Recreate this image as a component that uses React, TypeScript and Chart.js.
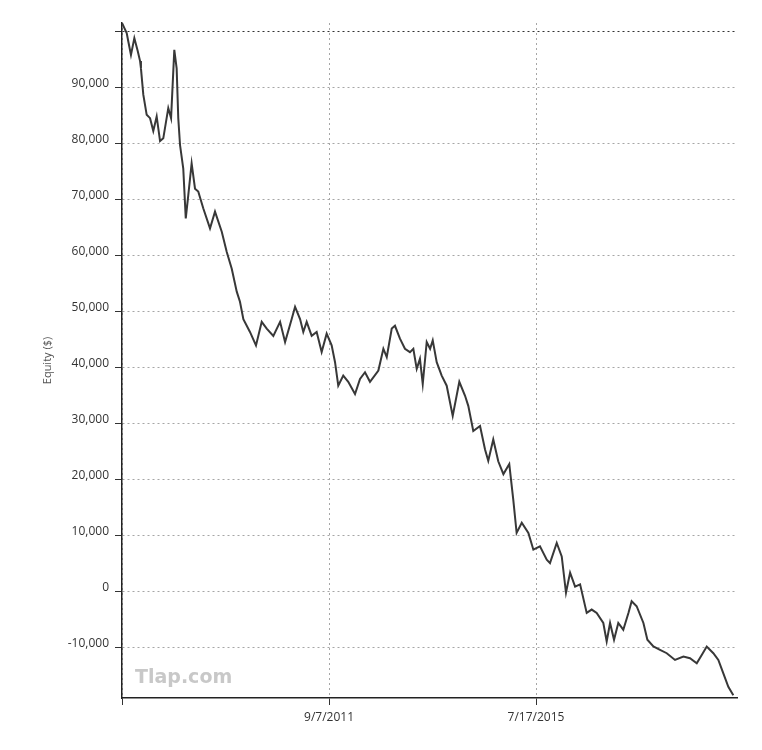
import React, { useEffect, useRef } from "react";
import { Chart, registerables } from "chart.js";
Chart.register(...registerables);

const START_DATE = "2007-10-29";
const AXIS_END_DAY = 4186;
const dayOffsets = [0,32,43,61,84,107,123,129,145,168,191,213,236,259,281,315,334,356,372,383,395,417,434,451,474,497,519,553,599,633,679,713,747,781,803,826,871,912,951,985,1030,1076,1110,1155,1178,1212,1234,1257,1291,1325,1359,1393,1427,1450,1472,1506,1540,1586,1620,1654,1688,1745,1779,1802,1836,1858,1892,1926,1960,1983,2006,2028,2047,2074,2097,2115,2142,2176,2210,2251,2296,2335,2357,2391,2437,2471,2493,2527,2561,2596,2636,2663,2686,2721,2766,2800,2845,2891,2913,2959,2993,3022,3050,3084,3118,3163,3197,3231,3276,3299,3322,3349,3378,3412,3447,3469,3503,3549,3576,3617,3662,3708,3764,3821,3866,3912,3946,3980,4025,4059,4093,4127,4161];
const equity = [101600,99800,98300,95900,98900,96600,94800,93500,88800,85200,84600,82300,84900,80500,81000,86400,84600,96800,93500,84600,79800,75600,66700,70800,76500,72000,71500,68500,64900,67900,64300,60700,57700,53600,51800,48700,46400,44000,48200,47000,45700,48200,44600,48700,50900,48700,46400,48200,45700,46400,42800,46100,44000,41000,36800,38600,37500,35300,38000,39200,37500,39500,43400,41900,47000,47500,45200,43400,42800,43400,39800,41600,37100,44600,43400,44900,41000,38600,36800,31400,37500,35000,33200,28700,29600,25400,23400,27200,23300,21000,22800,16500,10500,12300,10500,7500,8100,5700,5100,8700,6300,-200,3400,900,1300,-3800,-3200,-3800,-5600,-8900,-5600,-8600,-5600,-6800,-3800,-1700,-2600,-5600,-8600,-9800,-10400,-11000,-12200,-11600,-11900,-12800,-11300,-9800,-11000,-12200,-14600,-17000,-18500];
const xTickOffsets = [0, 1409, 2818];
const yTickValues = [-10000, 0, 10000, 20000, 30000, 40000, 50000, 60000, 70000, 80000, 90000, 100000];
const Y_MIN = -19000;
const Y_MAX = 101600;
const yTitle = "Equity ($)";
const watermark = "Tlap.com";

function formatDate(offset: number): string {
  const d = new Date(Date.parse(START_DATE + "T00:00:00Z") + offset * 86400000);
  return `${d.getUTCMonth() + 1}/${d.getUTCDate()}/${d.getUTCFullYear()}`;
}

const FONT = "'Open Sans', 'Noto Sans', sans-serif";

export default function App() {
  const ref = useRef<HTMLCanvasElement | null>(null);
  useEffect(() => {
    document.body.style.margin = "0";
    const canvas = ref.current;
    if (!canvas) return;
    const chart = new Chart(canvas, {
      type: "line",
      data: {
        datasets: [
          {
            data: dayOffsets.map((d, i) => ({ x: d, y: equity[i] })),
            borderColor: "#383838",
            borderWidth: 2,
            pointRadius: 0,
            tension: 0,
            fill: false,
          },
        ],
      },
      options: {
        animation: false,
        responsive: false,
        devicePixelRatio: 1,
        layout: { padding: { top: 23, right: 25, left: 0, bottom: 0 } },
        plugins: { legend: { display: false }, tooltip: { enabled: false } },
        scales: {
          x: {
            type: "linear",
            min: 0,
            max: AXIS_END_DAY,
            afterBuildTicks: (s: any) => {
              s.ticks = xTickOffsets.map((v) => ({ value: v }));
            },
            afterFit: (s: any) => {
              s.height = 52;
            },
            ticks: {
              autoSkip: false,
              maxRotation: 0,
              padding: 5,
              color: "#333",
              font: { family: FONT, size: 12 },
              callback: (v: any, i: number) => (i === 0 ? "" : formatDate(Number(v))),
            },
            grid: {
              color: "#a6a6a6",
              lineWidth: 1,
              tickLength: 7,
              tickColor: "#333",
              tickBorderDash: [],
            },
            border: { display: true, color: "#222", width: 1.5, dash: [2, 3] },
          },
          y: {
            type: "linear",
            min: Y_MIN,
            max: Y_MAX,
            afterBuildTicks: (s: any) => {
              s.ticks = yTickValues.map((v) => ({ value: v }));
            },
            afterFit: (s: any) => {
              s.width = 122;
            },
            title: {
              display: true,
              text: yTitle,
              color: "#555",
              font: { family: FONT, size: 11 },
              padding: { top: 41, bottom: 0 },
            },
            ticks: {
              autoSkip: false,
              padding: 6,
              labelOffset: -4,
              color: "#333",
              font: { family: FONT, size: 12 },
              callback: (v: any) => (Number(v) === 100000 ? "" : Number(v).toLocaleString("en-US")),
            },
            grid: {
              color: (ctx: any) => (ctx.tick && ctx.tick.value === 100000 ? "#333" : "#a6a6a6"),
              lineWidth: 1,
              tickLength: 7,
              tickColor: "#333",
              tickBorderDash: [],
            },
            border: { display: true, color: "#222", width: 1.5, dash: [2, 3] },
          },
        },
      },
    });
    return () => chart.destroy();
  }, []);
  return (
    <div style={{ position: "relative", width: 762, height: 750, background: "#fff" }}>
      <canvas ref={ref} width={762} height={750} style={{ display: "block" }} />
      <div
        style={{
          position: "absolute",
          left: 135,
          top: 665,
          fontFamily: "'DejaVu Sans', sans-serif",
          fontWeight: "bold",
          fontSize: 19,
          color: "#c8c8c8",
          pointerEvents: "none",
        }}
      >
        {watermark}
      </div>
    </div>
  );
}
